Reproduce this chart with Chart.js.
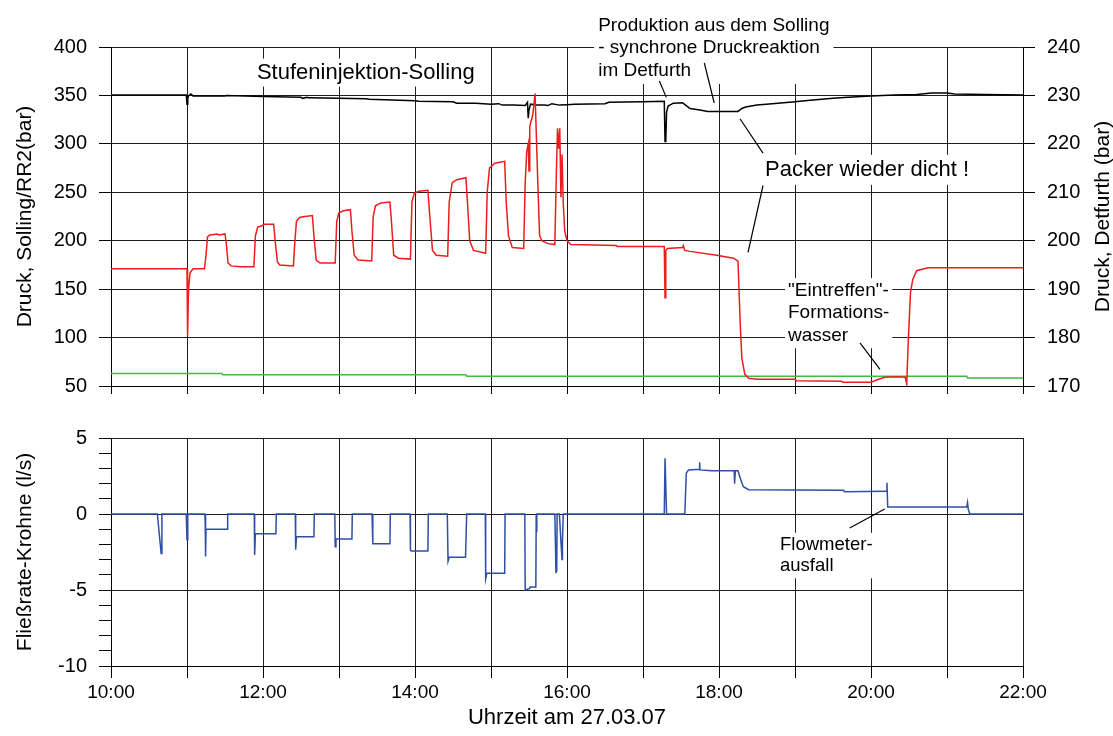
<!DOCTYPE html>
<html lang="de">
<head>
<meta charset="UTF-8">
<title>Stufeninjektion Solling - Druck und Fließrate</title>
<script src="https://cdn.jsdelivr.net/npm/chart.js"></script>
<style>
  html, body { margin: 0; padding: 0; background: #fff; }
  #wrap { position: relative; width: 1113px; height: 736px; }
  #druckChart { position: absolute; left: 0; top: 0; }
  #flowChart { position: absolute; left: 0; top: 414px; }
</style>
</head>
<body>
<div id="wrap">
  <canvas id="druckChart" width="1113" height="410"></canvas>
  <canvas id="flowChart" width="1113" height="322"></canvas>
</div>
<script>
// Zeit in Stunden (10.5 = 10:30)

// Druck Solling (bar), linke Achse
const timeSolling = [
  10.00, 11.00, 11.005, 11.01, 11.02, 11.04, 11.08, 11.23, 11.25, 11.27, 11.30, 11.40, 11.42, 11.50,
  11.52, 11.54, 11.58, 11.70, 11.88, 11.90, 11.93, 11.97, 12.02, 12.14, 12.16, 12.19, 12.22, 12.40,
  12.42, 12.44, 12.48, 12.55, 12.65, 12.67, 12.70, 12.75, 12.95, 12.97, 13.00, 13.06, 13.15, 13.17,
  13.20, 13.25, 13.43, 13.45, 13.48, 13.55, 13.67, 13.69, 13.72, 13.78, 13.94, 13.96, 13.99, 14.05,
  14.17, 14.19, 14.23, 14.28, 14.43, 14.45, 14.49, 14.55, 14.67, 14.69, 14.72, 14.77, 14.93, 14.95,
  14.98, 15.05, 15.18, 15.20, 15.23, 15.28, 15.43, 15.45, 15.47, 15.49, 15.50, 15.51, 15.55, 15.58,
  15.60, 15.62, 15.64, 15.67, 15.75, 15.84, 15.86, 15.875, 15.89, 15.905, 15.92, 15.935, 15.95, 15.97,
  16.00, 16.05, 16.65, 16.66, 17.28, 17.29, 17.30, 17.32, 17.52, 17.53, 17.55, 17.62, 17.97, 18.19,
  18.25, 18.28, 18.30, 18.34, 18.39, 18.50, 19.00, 19.02, 19.61, 19.63, 20.00, 20.10, 20.18, 20.36,
  20.45, 20.47, 20.49, 20.52, 20.55, 20.60, 20.75, 22.00
];
const druckSolling = [
  171, 171, 140, 102, 150, 167, 171, 171, 185, 204, 206, 207, 206, 207,
  195, 177, 174, 173, 173, 205, 214, 215, 217, 217, 200, 178, 175, 174,
  200, 220, 224, 225, 226, 205, 180, 177, 177, 220, 229, 231, 232, 210,
  185, 180, 179, 225, 236, 239, 240, 220, 185, 182, 181, 240, 249, 251,
  252, 230, 190, 185, 184, 240, 260, 263, 265, 240, 200, 190, 187, 250,
  275, 280, 282, 240, 205, 193, 192, 260, 292, 300, 272, 318, 330, 352,
  300, 250, 205, 200, 197, 196, 270, 316, 295, 316, 245, 289, 240, 210,
  200, 196, 195, 194, 194, 141, 190, 192, 193, 195, 190, 189, 185, 182,
  179, 113, 79, 62, 58, 57, 57, 55.5, 55, 54, 54, 57, 59, 59.5,
  59, 52, 96, 147, 160, 169, 172, 172
];

// Druck RR2 (bar), linke Achse
const timeRR2 = [10.00, 11.46, 11.47, 14.67, 14.68, 21.26, 21.27, 22.00];
const druckRR2 = [62.9, 62.9, 61.5, 61.5, 60.0, 60.0, 58.3, 58.3];

// Druck Detfurth (bar), rechte Achse
const timeDetfurth = [
  10.00, 10.99, 11.00, 11.01, 11.02, 11.05, 11.08, 11.50, 11.52, 12.00, 12.50, 12.52, 12.58, 12.60,
  13.00, 13.35, 13.40, 13.80, 14.00, 14.05, 14.50, 14.55, 14.80, 15.00, 15.10, 15.15, 15.30, 15.45,
  15.48, 15.49, 15.50, 15.52, 15.60, 15.70, 15.75, 15.80, 15.90, 16.00, 16.10, 16.50, 16.55, 17.00,
  17.28, 17.29, 17.30, 17.31, 17.33, 17.40, 17.52, 17.56, 17.62, 17.75, 17.85, 18.25, 18.30, 18.35,
  18.50, 18.70, 19.00, 19.20, 19.50, 19.70, 20.00, 20.30, 20.60, 20.80, 21.00, 21.10, 21.50, 22.00
];
const druckDetfurth = [
  230.1, 230.1, 228.2, 229.4, 229.9, 230.3, 229.9, 229.9, 230.0, 229.8, 229.6, 229.4, 229.6, 229.5,
  229.4, 229.3, 229.2, 229.0, 228.9, 228.8, 228.7, 228.4, 228.4, 228.2, 228.3, 228.0, 228.0, 227.9,
  228.6, 225.3, 227.0, 228.2, 228.0, 228.0, 227.9, 228.3, 228.0, 228.1, 228.2, 228.3, 228.6, 228.7,
  228.8, 220.5, 221.0, 226.5, 227.8, 228.4, 228.5, 228.0, 227.3, 227.0, 226.7, 226.7, 227.3, 227.6,
  228.0, 228.3, 228.7, 229.0, 229.4, 229.6, 229.9, 230.1, 230.2, 230.5, 230.5, 230.3, 230.2, 230.1
];

// Fließrate Krohne (l/s)
const timeKrohne = [
  10.00, 10.61, 10.66, 10.67, 10.99, 11.00, 11.01, 11.235, 11.24, 11.243, 11.246, 11.25, 11.53, 11.535,
  11.885, 11.89, 11.90, 12.17, 12.175, 12.425, 12.43, 12.44, 12.67, 12.675, 12.945, 12.95, 12.96, 13.17,
  13.175, 13.435, 13.445, 13.67, 13.675, 13.935, 13.94, 13.95, 14.17, 14.175, 14.425, 14.435, 14.45, 14.665,
  14.68, 14.925, 14.93, 14.945, 15.18, 15.185, 15.445, 15.45, 15.51, 15.515, 15.59, 15.595, 15.60, 15.605,
  15.84, 15.855, 15.86, 15.865, 15.87, 15.90, 15.92, 15.935, 15.94, 15.95, 17.28, 17.29, 17.31, 17.55,
  17.57, 17.60, 17.74, 17.745, 17.75, 17.90, 18.20, 18.205, 18.215, 18.25, 18.28, 18.32, 18.39, 19.64,
  19.65, 20.20, 20.21, 20.22, 21.26, 21.27, 21.28, 21.30, 22.00
];
const flowKrohne = [
  0, 0, -2.6, 0, 0, -1.7, 0, 0, -0.7, 0, -2.8, -1.0, -1.0, 0,
  0, -2.7, -1.3, -1.3, 0, 0, -2.35, -1.5, -1.5, 0, 0, -2.15, -1.65, -1.65,
  0, 0, -1.95, -1.95, 0, 0, -2.35, -2.43, -2.43, 0, 0, -3.1, -2.85, -2.85,
  0, 0, -4.25, -3.9, -3.9, 0, 0, -5.0, -4.9, -4.8, -4.8, 0, -1.2, 0,
  0, -3.9, -2.0, -3.8, 0, 0, -1.8, -3.0, -1.9, 0, 0, 3.66, 0, 0,
  2.7, 2.9, 2.95, 3.4, 2.9, 2.85, 2.85, 2.0, 2.85, 2.85, 2.35, 1.8, 1.6, 1.57,
  1.47, 1.5, 2.05, 0.46, 0.46, 0.75, 0.3, 0, 0
];

const FONT = '"Liberation Sans", Arial, sans-serif';
const GRID = '#1e1e1e';

Chart.defaults.font.family = FONT;
Chart.defaults.color = '#000';

const toPoints = (xs, ys) => xs.map((x, i) => ({ x: x, y: ys[i] }));

// Beschriftungen mit weißem Hintergrund und Hinweislinien
const notesPlugin = {
  id: 'notes',
  beforeDatasetsDraw(chart, args, opts) {
    const ctx = chart.ctx;
    ctx.save();
    for (const n of opts.items || []) {
      const xs = chart.scales.x, ys = chart.scales.y;
      const px = xs.getPixelForValue(n.x), py = ys.getPixelForValue(n.y);
      ctx.font = n.size + 'px ' + FONT;
      const w = Math.max(...n.lines.map(l => ctx.measureText(l).width));
      const h = (n.lines.length - 1) * n.gap + n.size;
      ctx.fillStyle = '#fff';
      ctx.fillRect(px - n.pad, py - n.size / 2 - n.pad, w + 2 * n.pad, h + 2 * n.pad);
      ctx.fillStyle = '#000';
      ctx.textAlign = 'left';
      ctx.textBaseline = 'middle';
      n.lines.forEach((l, i) => ctx.fillText(l, px, py + i * n.gap));
      ctx.strokeStyle = '#000';
      ctx.lineWidth = 1.2;
      for (const [x1, y1, x2, y2] of n.leaders || []) {
        ctx.beginPath();
        ctx.moveTo(xs.getPixelForValue(x1), ys.getPixelForValue(y1));
        ctx.lineTo(xs.getPixelForValue(x2), ys.getPixelForValue(y2));
        ctx.stroke();
      }
    }
    ctx.restore();
  }
};

// Titel der rechten Achse, von unten nach oben gelesen
const rightTitlePlugin = {
  id: 'rightTitle',
  afterDraw(chart, args, opts) {
    if (!opts.text) return;
    const ctx = chart.ctx, area = chart.chartArea;
    ctx.save();
    ctx.translate(opts.x, (area.top + area.bottom) / 2);
    ctx.rotate(-Math.PI / 2);
    ctx.font = opts.size + 'px ' + FONT;
    ctx.fillStyle = '#000';
    ctx.textAlign = 'center';
    ctx.textBaseline = 'middle';
    ctx.fillText(opts.text, 0, 0);
    ctx.restore();
  }
};

const lineStyle = (color) => ({
  borderColor: color,
  borderWidth: 1.5,
  pointRadius: 0,
  tension: 0,
  fill: false
});

new Chart(document.getElementById('druckChart'), {
  type: 'line',
  data: {
    datasets: [
      Object.assign({ label: 'Solling', data: toPoints(timeSolling, druckSolling), yAxisID: 'y' }, lineStyle('#ee1c1c')),
      Object.assign({ label: 'Detfurth', data: toPoints(timeDetfurth, druckDetfurth), yAxisID: 'y2' }, lineStyle('#000000')),
      Object.assign({ label: 'RR2', data: toPoints(timeRR2, druckRR2), yAxisID: 'y' }, lineStyle('#45b845'))
    ]
  },
  options: {
    responsive: false,
    animation: false,
    events: [],
    layout: { padding: { top: 47, left: 0, right: 0, bottom: 0 } },
    scales: {
      x: {
        type: 'linear', min: 10, max: 22,
        ticks: { stepSize: 1, display: false },
        grid: { color: GRID, tickColor: '#000', tickLength: 8 },
        border: { color: '#000' },
        afterFit: s => { s.height = 18; }
      },
      y: {
        position: 'left', min: 50, max: 400,
        ticks: { stepSize: 50, padding: 12, font: { size: 20 }, autoSkip: false },
        grid: { color: GRID, tickColor: '#000', tickLength: 12 },
        border: { color: '#000' },
        title: { display: true, text: 'Druck, Solling/RR2(bar)', font: { size: 21 }, padding: { top: 13 } },
        afterFit: s => { s.width = 111; }
      },
      y2: {
        position: 'right', min: 170, max: 240,
        ticks: { stepSize: 10, padding: 12, font: { size: 20 }, autoSkip: false },
        grid: { drawOnChartArea: false, tickColor: '#000', tickLength: 12 },
        border: { color: '#000' },
        afterFit: s => { s.width = 90; }
      }
    },
    plugins: {
      legend: { display: false },
      tooltip: { enabled: false },
      rightTitle: { text: 'Druck, Detfurth (bar)', size: 21, x: 1103 },
      notes: {
        items: [
          { x: 11.92, y: 373.6, lines: ['Stufeninjektion-Solling'], size: 22, gap: 0, pad: 3 },
          { x: 16.41, y: 422.3, lines: ['Produktion aus dem Solling', '- synchrone Druckreaktion', 'im Detfurth'],
            size: 19, gap: 22.5, pad: 4,
            leaders: [[17.215, 364.8, 17.307, 348.0], [17.807, 383.5, 17.937, 342.2]] },
          { x: 18.605, y: 273.2, lines: ['Packer wieder dicht !'], size: 22, gap: 0, pad: 4,
            leaders: [[18.276, 325.9, 18.579, 290.4], [18.579, 257, 18.382, 188]] },
          { x: 18.908, y: 148.4, lines: ['"Eintreffen"-', 'Formations-', 'wasser'], size: 19, gap: 22.5, pad: 3,
            leaders: [[19.855, 94.6, 20.118, 67.2]] }
        ]
      }
    }
  },
  plugins: [notesPlugin, rightTitlePlugin]
});

new Chart(document.getElementById('flowChart'), {
  type: 'line',
  data: {
    datasets: [
      Object.assign({ label: 'Krohne', data: toPoints(timeKrohne, flowKrohne) }, lineStyle('#2e4fa6'))
    ]
  },
  options: {
    responsive: false,
    animation: false,
    events: [],
    layout: { padding: { top: 24, left: 0, right: 90, bottom: 0 } },
    scales: {
      x: {
        type: 'linear', min: 10, max: 22,
        ticks: {
          stepSize: 1, autoSkip: false, maxRotation: 0, padding: 3, font: { size: 19 },
          callback: v => (v % 2 === 0 ? v + ':00' : '')
        },
        grid: { color: GRID, tickColor: '#000', tickLength: 12 },
        border: { color: '#000' },
        title: { display: true, text: 'Uhrzeit am 27.03.07', font: { size: 22 }, padding: { top: 0, bottom: 5 } },
        afterFit: s => { s.height = 70; }
      },
      y: {
        position: 'left', min: -10, max: 5,
        ticks: {
          stepSize: 1, autoSkip: false, padding: 12, font: { size: 20 },
          callback: v => (v % 5 === 0 ? v : '')
        },
        grid: {
          color: c => (c.tick && c.tick.value % 5 === 0 ? GRID : 'rgba(0,0,0,0)'),
          tickColor: '#000', tickLength: 12
        },
        border: { color: '#000' },
        title: { display: true, text: 'Fließrate-Krohne (l/s)', font: { size: 21 }, padding: { top: 13 } },
        afterFit: s => { s.width = 111; }
      }
    },
    plugins: {
      legend: { display: false },
      tooltip: { enabled: false },
      notes: {
        items: [
          { x: 18.803, y: -2.04, lines: ['Flowmeter-', 'ausfall'], size: 18.5, gap: 21, pad: 3,
            leaders: [[19.72, -0.92, 20.18, 0.33]] }
        ]
      }
    }
  },
  plugins: [notesPlugin]
});
</script>
</body>
</html>
